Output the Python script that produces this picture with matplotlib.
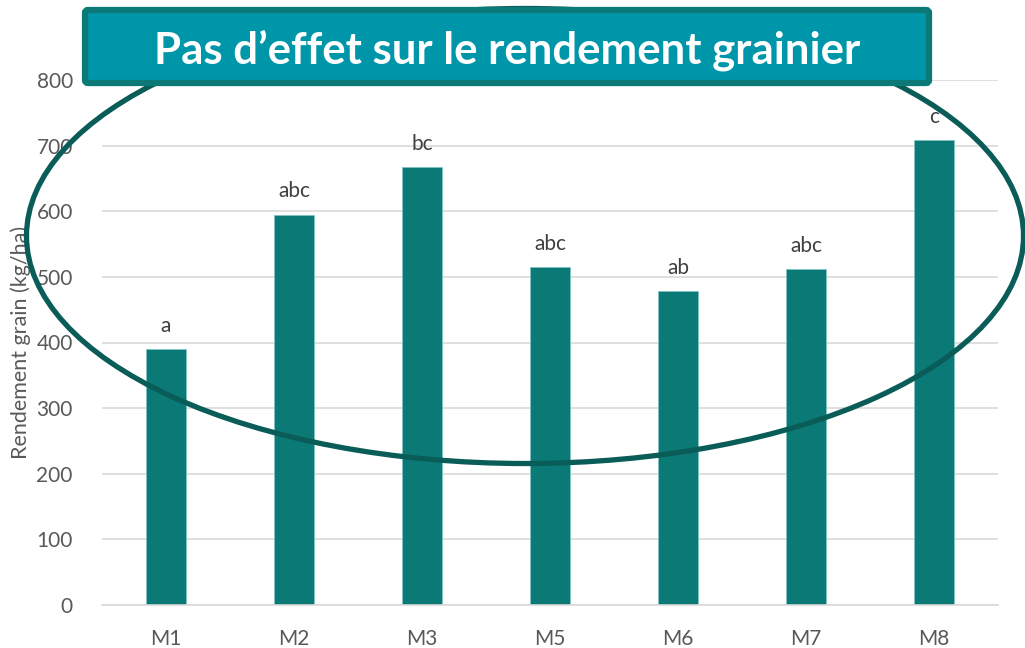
import matplotlib
matplotlib.use('Agg')
import matplotlib.pyplot as plt
from matplotlib.patches import Ellipse, FancyBboxPatch

plt.rcParams['font.family'] = ['Lato', 'DejaVu Sans']

# données
categories = ['M1', 'M2', 'M3', 'M5', 'M6', 'M7', 'M8']
rendement = [390, 595, 667, 515, 478, 512, 709]
lettres = ['a', 'abc', 'bc', 'abc', 'ab', 'abc', 'c']
titre = 'Pas d\u2019effet sur le rendement grainier'

W, H = 1025, 648
fig = plt.figure(figsize=(W / 100, H / 100), dpi=100)
ax = fig.add_axes([102 / W, 1 - 605 / H, 896 / W, 525 / H])

x = range(len(categories))
ax.bar(x, rendement, width=0.3125, color='#0B7A77', edgecolor='#7FC4C0', linewidth=0.6, zorder=2)
for i, (v, l) in enumerate(zip(rendement, lettres)):
    ax.text(i, v + 20, l, ha='center', va='bottom', fontsize=15, color='#404040', zorder=3)

ax.set_xlim(-0.5, len(categories) - 0.5)
ax.set_ylim(0, 800)
ax.set_yticks(range(0, 801, 100))
ax.set_xticks(list(x))
ax.set_xticklabels(categories)
ax.yaxis.grid(True, color='#D9D9D9', linewidth=1.2, zorder=0)
ax.set_axisbelow(True)
for s in ['top', 'right', 'left']:
    ax.spines[s].set_visible(False)
ax.spines['bottom'].set_color('#D9D9D9')
ax.spines['bottom'].set_linewidth(1.2)
ax.tick_params(length=0, labelsize=15, colors='#595959', pad=17)
ax.tick_params(axis='y', pad=21)
ax.set_ylabel('Rendement grain (kg/ha)', fontsize=15.5, color='#595959', labelpad=4)

# calque d'annotation en pixels
ov = fig.add_axes([0, 0, 1, 1])
ov.set_xlim(0, W)
ov.set_ylim(H, 0)
ov.axis('off')
ov.patch.set_alpha(0)

ov.add_patch(Ellipse((525, 236), 997, 455, fill=False, edgecolor='#0A5C58', linewidth=3.8, zorder=1))
ov.add_patch(FancyBboxPatch((85, 10), 844, 73, boxstyle='round,pad=0,rounding_size=3',
                            facecolor='#0096A9', edgecolor='#0B7A77', linewidth=4.5, zorder=2))
ov.text(507, 50, titre, ha='center', va='center', fontsize=31.5, fontweight='bold', color='white', zorder=3)

fig.savefig('out.png', dpi=100)
